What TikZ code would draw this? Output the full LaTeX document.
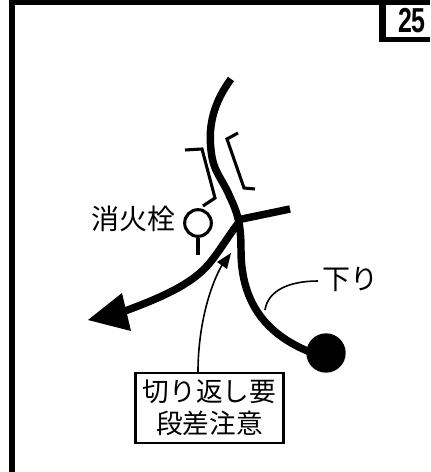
\documentclass[tikz,border=0pt]{standalone}
\usepackage{fontspec}
\setmainfont{Liberation Sans}
\newfontfamily\cjk{Noto Sans CJK JP}
\usetikzlibrary{arrows.meta}
\tikzset{
  x=0.75pt,y=-0.75pt,
  road/.style={line width=5.6pt,line cap=butt},
  thinroad/.style={line width=2.3pt},
  leader/.style={line width=1.2pt},
  lab/.style={font=\cjk\fontsize{21pt}{25pt}\selectfont,inner sep=0pt,align=center}
}
\begin{document}
\begin{tikzpicture}
\useasboundingbox (0,0) rectangle (430,472);
% frame
\fill[black] (9,0) rectangle (430,5);
\fill[black] (9,0) rectangle (15,472);
\fill[black] (379,5) rectangle (386,42);
\fill[black] (379,37) rectangle (430,42);
\node[font=\bfseries\fontsize{26pt}{28pt}\selectfont,inner sep=0pt,xscale=0.72] (num) at (412,20.5) {25};
% main road
\draw[road] (231,79) .. controls (214,102) and (208,125) .. (211,150)
  .. controls (213,172) and (222,178) .. (230,197)
  .. controls (238,214) and (241,225) .. (241,250)
  .. controls (241,290) and (255,330) .. (310,352);
\coordinate (junction) at (237,220);
\coordinate (branchend) at (290,209);
\draw[road] (junction) -- (branchend);
\node[circle,fill=black,minimum size=29.5pt,inner sep=0pt] (goal) at (326,353) {};
% exit with arrow
\draw[road] (240,221) .. controls (228,236) and (218,254) .. (207,266)
  .. controls (190,285) and (160,298) .. (125,311);
\fill[black] (88,320) -- (122,293) -- (131,331) -- cycle;
% hydrant
\node[circle,draw,line width=2.3pt,minimum size=20pt,inner sep=0pt] (hyd) at (198,223) {};
\coordinate (hydbase) at (198,255);
\draw[thinroad] (hyd.south) -- (hydbase);
% guard rails
\draw[thinroad] (185,150) -- (202,149) -- (215,198) -- (203,206);
\draw[thinroad] (238,133) -- (227,139) -- (244,188) -- (255,189);
% labels
\node[lab] (hydlab) at (133,219) {消火栓};
\node[lab] (down) at (350,280) {下り};
\coordinate (downstart) at (318,281);
\coordinate (downend) at (265,310);
\draw[leader] (downstart) .. controls (290,281) and (268,290) .. (downend);
% note box
\node[draw,line width=1.7pt,inner sep=0pt,minimum width=111pt,minimum height=53pt,align=center,font=\cjk\fontsize{20pt}{24pt}\selectfont] (note) at (209.5,408) {切り返し要\\段差注意};
\coordinate (notetip) at (231,253);
\draw[leader] (198,372) .. controls (198,330) and (208,290) .. (222,265);
\fill[black] (notetip) -- (217,262) -- (227,269) -- cycle;
\end{tikzpicture}
\end{document}
